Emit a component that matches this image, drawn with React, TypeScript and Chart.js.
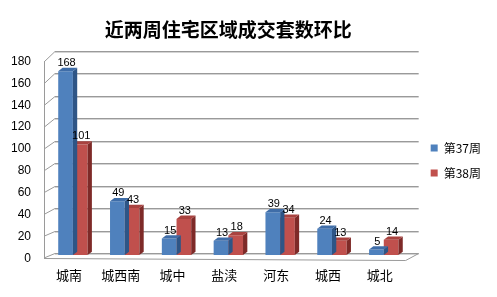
import React, { useEffect, useRef } from 'react';
import { Chart, registerables } from 'chart.js';

Chart.register(...registerables);

const categories = ['城南', '城西南', '城中', '盐渎', '河东', '城西', '城北'];
const week37 = [168, 49, 15, 13, 39, 24, 5];
const week38 = [101, 43, 33, 18, 34, 13, 14];
const seriesNames = ['第37周', '第38周'];
const titleText = '近两周住宅区域成交套数环比';
const yMin = 0;
const yMax = 180;
const yStep = 20;

const frontColors = ['#4F81BD', '#C0504D'];
const topColors = ['#3F6DA8', '#A9423F'];
const sideColors = ['#2E5586', '#7E2A28'];

const CJK = '"Noto Sans CJK SC", sans-serif';
const NUM = '"Liberation Sans", Arial, sans-serif';

const wallPlugin = {
  id: 'wall3d',
  beforeDatasetsDraw(chart: any) {
    const { ctx, chartArea: a, scales } = chart;
    const ys = scales.y;
    const L = a.left;
    const R = a.right;
    const top = a.top;
    const bot = a.bottom;
    const fl = L - 3;
    const fr = R - 4;
    const bl = L + 8;
    const br = R + 9;
    const frac = (p: number) => (bot - p) / (bot - top);
    const yf = (p: number) => p + 3 + frac(p);
    const yb = (p: number) => p - 2 - 5 * frac(p);
    ctx.save();
    ctx.lineWidth = 1;
    const line = (pts: number[][], color: string) => {
      ctx.strokeStyle = color;
      ctx.beginPath();
      ctx.moveTo(pts[0][0], pts[0][1]);
      for (let i = 1; i < pts.length; i++) ctx.lineTo(pts[i][0], pts[i][1]);
      ctx.stroke();
    };
    ys.ticks.forEach((t: any) => {
      const p = ys.getPixelForValue(t.value);
      const b = Math.round(yb(p)) + 0.5;
      line([[bl, b + 1], [br, b + 1]], '#d4d4d4');
      line([[fl, yf(p)], [bl, b], [br, b]], '#9a9a9a');
    });
    // left axis
    line([[fl + 0.5, yf(top)], [fl + 0.5, yf(bot)]], '#9a9a9a');
    // floor front edge + right diagonal
    line([[fl, yf(bot) + 0.5], [fr, yf(bot) + 2.5], [br, yb(bot) + 0.5]], '#9a9a9a');
    ctx.restore();
  },
};

const bar3dPlugin = {
  id: 'bar3d',
  afterDatasetDraw(chart: any, args: any) {
    const { ctx } = chart;
    const idx = args.index;
    const dx = 4.3;
    const dy = 3.3;
    ctx.save();
    args.meta.data.forEach((el: any) => {
      const { x, y, base, width } = el.getProps(['x', 'y', 'base', 'width'], true);
      const l = x - width / 2;
      const r = x + width / 2;
      ctx.fillStyle = sideColors[idx];
      ctx.beginPath();
      ctx.moveTo(r, y);
      ctx.lineTo(r + dx, y - dy);
      ctx.lineTo(r + dx, base - dy);
      ctx.lineTo(r, base);
      ctx.closePath();
      ctx.fill();
      ctx.fillStyle = topColors[idx];
      ctx.beginPath();
      ctx.moveTo(l, y);
      ctx.lineTo(l + dx, y - dy);
      ctx.lineTo(r + dx, y - dy);
      ctx.lineTo(r, y);
      ctx.closePath();
      ctx.fill();
    });
    ctx.restore();
  },
};

const valueLabelPlugin = {
  id: 'valueLabels',
  afterDatasetsDraw(chart: any) {
    const { ctx } = chart;
    ctx.save();
    ctx.font = `11px ${NUM}`;
    ctx.fillStyle = '#000';
    ctx.textAlign = 'center';
    ctx.textBaseline = 'middle';
    chart.data.datasets.forEach((ds: any, i: number) => {
      const meta = chart.getDatasetMeta(i);
      meta.data.forEach((el: any, j: number) => {
        ctx.fillText(String(ds.data[j]), el.x + 1, el.y - 8);
      });
    });
    ctx.restore();
  },
};

export default function App() {
  const ref = useRef<HTMLCanvasElement>(null);
  useEffect(() => {
    document.body.style.margin = '0';
    let chart: Chart | null = null;
    let cancelled = false;
    const make = () => {
      if (cancelled || !ref.current) return;
      chart = new Chart(ref.current, {
        type: 'bar',
        data: {
          labels: categories,
          datasets: [
            {
              label: seriesNames[0],
              data: week37,
              backgroundColor: frontColors[0],
              borderWidth: 0,
              categoryPercentage: 0.567,
              barPercentage: 1,
            },
            {
              label: seriesNames[1],
              data: week38,
              backgroundColor: frontColors[1],
              borderWidth: 0,
              categoryPercentage: 0.567,
              barPercentage: 1,
            },
          ],
        },
        options: {
          animation: false,
          responsive: false,
          devicePixelRatio: 1,
          layout: { padding: { left: 0, right: 6, top: 0, bottom: 2.4 } },
          scales: {
            x: {
              grid: { display: false, drawTicks: false },
              border: { display: false },
              ticks: {
                font: { family: CJK, size: 13 },
                color: '#000',
                padding: 12,
                labelOffset: -4,
                maxRotation: 0,
                autoSkip: false,
              },
            },
            y: {
              min: yMin,
              max: yMax,
              grid: { display: false, drawTicks: false },
              border: { display: false },
              ticks: {
                stepSize: yStep,
                font: { family: NUM, size: 12 },
                color: '#000',
                padding: 16,
                labelOffset: 3.5,
              },
              afterFit(s: any) {
                s.width = 47;
              },
            },
            gap: {
              type: 'linear',
              position: 'right',
              display: true,
              grid: { display: false, drawTicks: false },
              border: { display: false },
              ticks: { display: false },
              afterFit(s: any) {
                s.width = 8;
              },
            },
          },
          plugins: {
            title: {
              display: true,
              text: titleText,
              fullSize: false,
              color: '#000',
              font: { family: CJK, size: 19, weight: 'bold' },
              padding: { top: 18.3, bottom: 16.9 },
            },
            legend: {
              position: 'right',
              fullSize: false,
              align: 'center',
              title: { display: true, text: '', padding: 1, font: { size: 5 } },
              labels: {
                boxWidth: 7,
                boxHeight: 7,
                padding: 13,
                color: '#000',
                font: { family: CJK, size: 12 },
              },
            },
            tooltip: { enabled: false },
          },
        } as any,
        plugins: [wallPlugin, bar3dPlugin, valueLabelPlugin],
      });
    };
    const fonts = (document as any).fonts;
    if (fonts && fonts.load) {
      Promise.all([
        fonts.load(`bold 19px ${CJK}`),
        fonts.load(`12px ${CJK}`),
        fonts.load(`12px ${NUM}`),
      ])
        .catch(() => {})
        .then(make);
    } else {
      make();
    }
    return () => {
      cancelled = true;
      if (chart) chart.destroy();
    };
  }, []);
  return (
    <div style={{ width: 497, height: 297 }}>
      <canvas ref={ref} width={497} height={297} style={{ display: 'block' }} />
    </div>
  );
}
